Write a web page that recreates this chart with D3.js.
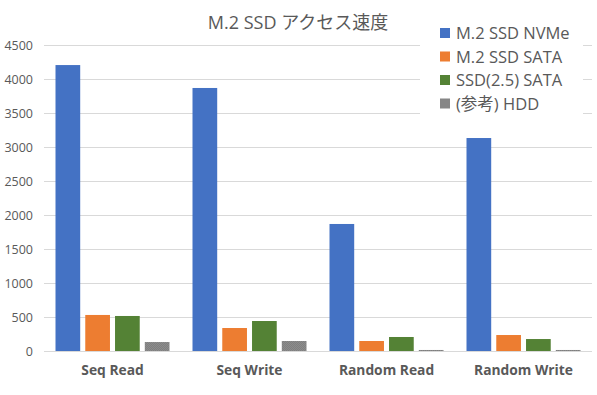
<!DOCTYPE html>
<html>
<head>
<meta charset="utf-8">
<script src="https://cdn.jsdelivr.net/npm/d3@7"></script>
<style>
  body { margin: 0; background: #fff; }
  text { font-family: "Segoe UI", "Open Sans", "Noto Sans CJK JP", sans-serif; fill: #595959; }
</style>
</head>
<body>
<div id="chart"></div>
<script>
// data
const categories = ["Seq Read", "Seq Write", "Random Read", "Random Write"];
const series = ["M.2 SSD NVMe", "M.2 SSD SATA", "SSD(2.5) SATA", "(参考) HDD"];
const nvme = [4205, 3868, 1868, 3132];
const m2sata = [530, 338, 147, 235];
const ssdSata = [515, 441, 206, 176];
const hdd = [132, 147, 15, 15];
const yTicks = [0, 500, 1000, 1500, 2000, 2500, 3000, 3500, 4000, 4500];
const colors = ["#4472C4", "#ED7D31", "#548235", "#7F7F7F"];

const values = [nvme, m2sata, ssdSata, hdd];

// dimensions
const w = 597;
const h = 395;
const padLeft = 44;
const padRight = 5;
const padTop = 45;
const padBot = 44;

const svg = d3.select("#chart")
  .append("svg")
  .attr("width", w)
  .attr("height", h);

// hatch for hdd bars
const defs = svg.append("defs");
const pat = defs.append("pattern")
  .attr("id", "hddfill")
  .attr("width", 2).attr("height", 2)
  .attr("patternUnits", "userSpaceOnUse");
pat.append("rect").attr("width", 2).attr("height", 2).attr("fill", "#7F7F7F");
pat.append("rect").attr("width", 1).attr("height", 1).attr("fill", "#8C8C8C");
pat.append("rect").attr("x", 1).attr("y", 1).attr("width", 1).attr("height", 1).attr("fill", "#8C8C8C");

// scales
const yScale = d3.scaleLinear()
  .domain([0, 4500])
  .range([h - padBot, padTop]);
const x0 = d3.scaleBand()
  .domain(categories)
  .range([padLeft, w - padRight])
  .padding(0);
const x1 = d3.scaleBand()
  .domain(series)
  .range([11.5, x0.bandwidth() - 11.5])
  .paddingInner(0.17);

// gridlines
svg.append("g")
  .selectAll("line")
  .data(yTicks)
  .join("line")
  .attr("x1", padLeft)
  .attr("x2", w - padRight)
  .attr("y1", d => yScale(d) + 0.5)
  .attr("y2", d => yScale(d) + 0.5)
  .attr("stroke", "#D9D9D9")
  .attr("stroke-width", 1);

// Y axis labels
const yAxis = d3.axisLeft(yScale).tickValues(yTicks).tickFormat(d3.format("d")).tickSize(0).tickPadding(11);
const gy = svg.append("g")
  .attr("transform", `translate(${padLeft}, 0)`)
  .call(yAxis);
gy.select(".domain").remove();
gy.selectAll("text").style("font-size", "12.5px").attr("fill", "#595959");

// bars
const groups = svg.append("g")
  .selectAll("g")
  .data(categories)
  .join("g")
  .attr("transform", d => `translate(${x0(d)}, 0)`);
groups.selectAll("rect")
  .data((c, ci) => series.map((s, si) => ({ s, si, v: values[si][ci] })))
  .join("rect")
  .attr("x", d => x1(d.s))
  .attr("width", x1.bandwidth())
  .attr("y", d => yScale(d.v))
  .attr("height", d => yScale(0) - yScale(d.v))
  .attr("fill", d => d.si === 3 ? "url(#hddfill)" : colors[d.si]);

// X axis labels
const xAxis = d3.axisBottom(x0).tickSize(0).tickPadding(14);
const gx = svg.append("g")
  .attr("transform", `translate(0, ${h - padBot})`)
  .call(xAxis);
gx.select(".domain").remove();
gx.selectAll("text")
  .style("font-size", "13.8px")
  .style("font-weight", "bold")
  .attr("fill", "#595959");

// title
svg.append("text")
  .attr("x", 298)
  .attr("y", 29)
  .attr("text-anchor", "middle")
  .style("font-size", "18px")
  .text("M.2 SSD アクセス速度");

// legend
const legend = svg.append("g");
legend.append("rect")
  .attr("x", 420).attr("y", 18)
  .attr("width", 163).attr("height", 98)
  .attr("fill", "#fff");
const items = legend.selectAll("g")
  .data(series)
  .join("g")
  .attr("transform", (d, i) => `translate(440, ${33 + i * 23.5})`);
items.append("rect")
  .attr("x", 0).attr("y", -5)
  .attr("width", 10).attr("height", 10)
  .attr("fill", (d, i) => i === 3 ? "url(#hddfill)" : colors[i]);
items.append("text")
  .attr("x", 16)
  .attr("y", 6)
  .style("font-size", "16.5px")
  .text(d => d);
</script>
</body>
</html>
